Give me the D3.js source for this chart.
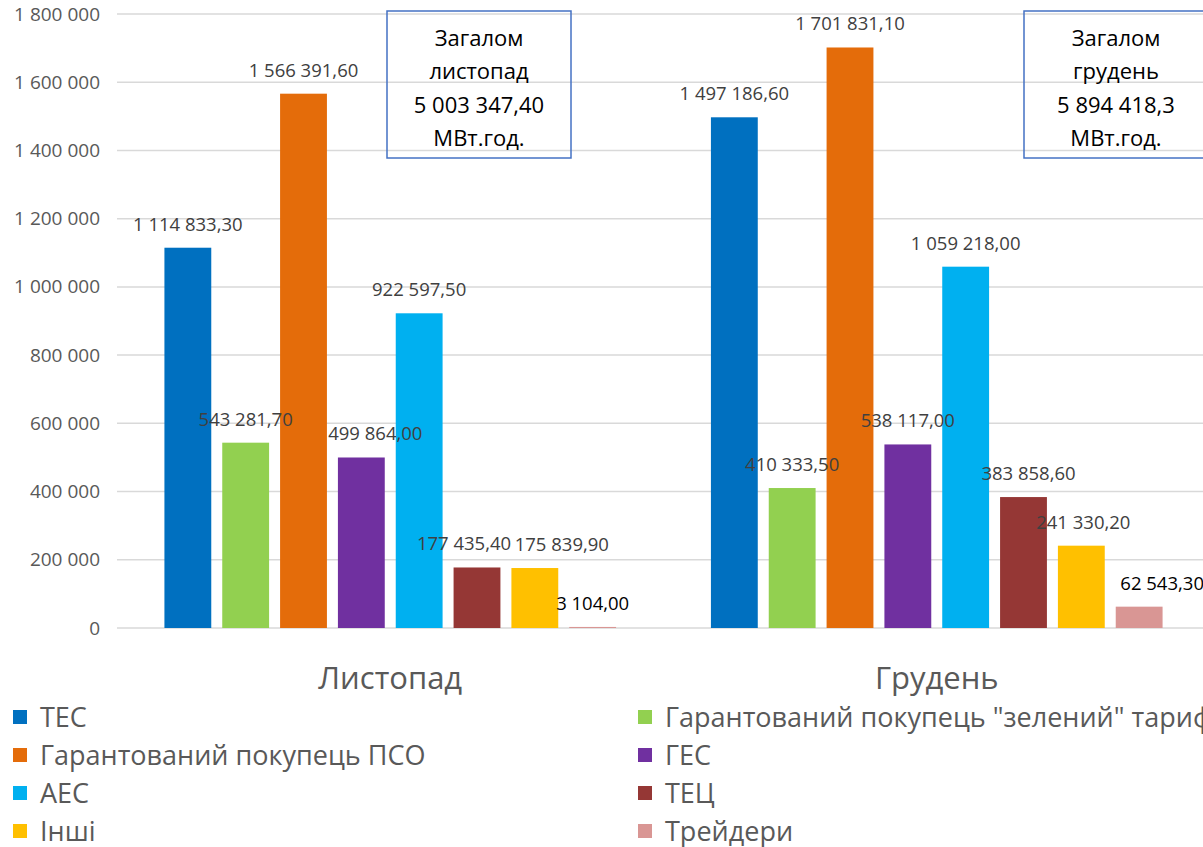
<!DOCTYPE html>
<html><head><meta charset="utf-8">
<script src="https://cdn.jsdelivr.net/npm/d3@7"></script>
<style>body{margin:0;background:#fff;overflow:hidden}svg{display:block}text{font-family:"Open Sans",sans-serif}</style>
</head><body>
<svg id="c" width="1203" height="847"></svg>
<script>
const months = ["Листопад", "Грудень"];
const seriesNames = ["ТЕС", "Гарантований покупець \"зелений\" тариф", "Гарантований покупець ПСО", "ГЕС", "АЕС", "ТЕЦ", "Інші", "Трейдери"];
const novValues = [1114833.30, 543281.70, 1566391.60, 499864.00, 922597.50, 177435.40, 175839.90, 3104.00];
const decValues = [1497186.60, 410333.50, 1701831.10, 538117.00, 1059218.00, 383858.60, 241330.20, 62543.30];
const colors = ["#0070C0", "#92D050", "#E46C0A", "#7030A0", "#00B0F0", "#953735", "#FFC000", "#D99694"];
const yTicks = [0, 200000, 400000, 600000, 800000, 1000000, 1200000, 1400000, 1600000, 1800000];
const totalBoxes = [["Загалом", "листопад", "5 003 347,40", "МВт.год."], ["Загалом", "грудень", "5 894 418,3", "МВт.год."]];
// small horizontal nudges of data labels (as placed in the original)
const novLabelNudge = [0, 0, 0, 14, 0, -13, 27, 0];
const decLabelNudge = [0, 0, 0, 0, 0, 5, 2, 23];

const valuesByMonth = [novValues, decValues];
const svg = d3.select("#c");
const pLeft = 117, pRight = 1210, pTop = 14, pBottom = 628;

const y = d3.scaleLinear().domain([0, 1800000]).range([pBottom, pTop]);
const x0 = d3.scaleBand().domain(months).range([pLeft, pRight]).padding(0);
const x1 = d3.scaleBand().domain(seriesNames).range([0, x0.bandwidth()]).paddingInner(0.19).paddingOuter(0.82);

const fmtInt = v => d3.format(",")(v).replace(/,/g, " ");
const fmtVal = v => d3.format(",.2f")(v).replace(/,/g, " ").replace(".", ",");

// gridlines
svg.append("g").selectAll("line").data(yTicks).join("line")
  .attr("x1", pLeft).attr("x2", 1203).attr("y1", d => y(d)).attr("y2", d => y(d))
  .attr("stroke", "#D9D9D9").attr("stroke-width", 1.5);

// y axis labels
const yAxis = d3.axisLeft(y).tickValues(yTicks).tickFormat(fmtInt).tickSize(0).tickPadding(0);
const ya = svg.append("g").attr("transform", "translate(100,0)").call(yAxis);
ya.select(".domain").remove();
ya.selectAll("text").attr("fill", "#595959").style("font-size", "19px").style("font-family", "'Open Sans',sans-serif");

// bars
months.forEach((m, mi) => {
  const g = svg.append("g").attr("transform", `translate(${x0(m)},0)`);
  const vals = valuesByMonth[mi];
  g.selectAll("rect").data(vals).join("rect")
    .attr("x", (d, i) => x1(seriesNames[i]))
    .attr("width", x1.bandwidth())
    .attr("y", d => y(d))
    .attr("height", d => pBottom - y(d))
    .attr("fill", (d, i) => colors[i]);
  const nudge = mi === 0 ? novLabelNudge : decLabelNudge;
  g.selectAll("text.lbl").data(vals).join("text").attr("class", "lbl")
    .attr("x", (d, i) => x1(seriesNames[i]) + x1.bandwidth() / 2 + nudge[i])
    .attr("y", d => y(d) - 17)
    .attr("text-anchor", "middle")
    .attr("fill", (d, i) => i === 7 ? "#000" : "#404040")
    .style("font-size", "18.5px")
    .text(d => fmtVal(d));
});

// category labels
svg.append("g").selectAll("text").data(months).join("text")
  .attr("x", d => x0(d) + x0.bandwidth() / 2)
  .attr("y", 689)
  .attr("text-anchor", "middle")
  .attr("fill", "#595959")
  .style("font-size", "31px")
  .text(d => d);

// total boxes
const boxLeft = [387, 1024];
totalBoxes.forEach((lines, bi) => {
  const bx = boxLeft[bi], bw = 184;
  svg.append("rect").attr("x", bx).attr("y", 11).attr("width", bw).attr("height", 147)
    .attr("fill", "none").attr("stroke", "#4472C4").attr("stroke-width", 1.5);
  svg.append("g").selectAll("text").data(lines).join("text")
    .attr("x", bx + 92).attr("y", (d, i) => 46 + i * 33.3)
    .attr("text-anchor", "middle").attr("fill", "#000")
    .style("font-size", "22px").text(d => d);
});

// legend
const legPos = seriesNames.map((s, i) => ({ s, i, col: i % 2, row: Math.floor(i / 2) }));
const lg = svg.append("g").selectAll("g").data(legPos).join("g")
  .attr("transform", d => `translate(${d.col === 0 ? 13 : 638},${717 + d.row * 38})`);
lg.append("rect").attr("x", 0).attr("y", -7).attr("width", 14).attr("height", 14).attr("fill", d => colors[d.i]);
lg.append("text").attr("x", 27).attr("y", 0).attr("dy", "0.36em")
  .attr("fill", "#595959").style("font-size", "27px").text(d => d.s);
</script>
</body></html>
